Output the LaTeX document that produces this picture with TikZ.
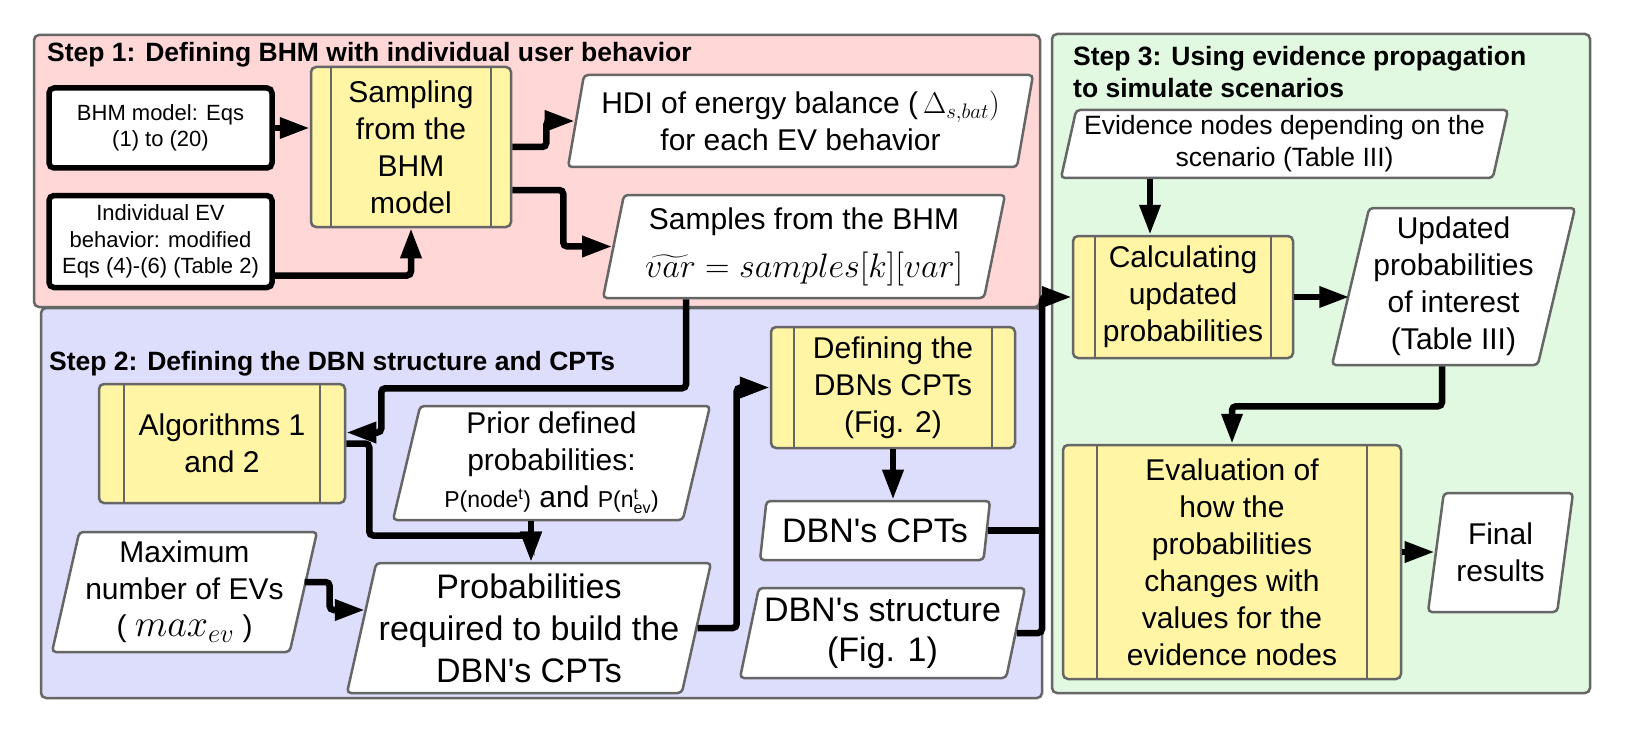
\RequirePackage{fix-cm}
\documentclass[tikz,border=0pt]{standalone}
\usepackage{amsmath}
\usepackage[no-math]{fontspec}
\setmainfont{Liberation Sans}
\setsansfont{Liberation Sans}
\usepackage{xcolor}
\usepackage{tikz}
\usetikzlibrary{positioning,shapes.geometric,arrows.meta}

\definecolor{stepone}{RGB}{255,215,215}
\definecolor{steptwo}{RGB}{221,221,252}
\definecolor{stepthree}{RGB}{224,249,224}
\definecolor{procyellow}{RGB}{255,245,165}
\definecolor{edgegray}{RGB}{102,102,102}

\newcommand{\pxfont}[2]{\fontsize{#1}{#2}\selectfont}

\begin{document}
\begin{tikzpicture}[x=1pt, y=-1pt,
  frame/.style={draw=edgegray, line width=2.5pt, rounded corners=5pt},
  steptitle/.style={font=\pxfont{26.5}{32}\bfseries, inner sep=0pt, align=left},
  inbox/.style={draw=black, line width=5.5pt, rounded corners=5pt, fill=white,
    align=center, font=\pxfont{22}{26.5}, inner sep=0pt},
  proc/.style={draw=edgegray, line width=2.5pt, rounded corners=5pt, fill=procyellow,
    align=center, font=\pxfont{30}{37}, inner sep=0pt,
    path picture={
      \draw[edgegray, line width=2.5pt]
        ([xshift=#1]path picture bounding box.north west) -- ([xshift=#1]path picture bounding box.south west)
        ([xshift=-#1]path picture bounding box.north east) -- ([xshift=-#1]path picture bounding box.south east);}},
  proc/.default=22pt,
  data/.style={trapezium, trapezium left angle=75, trapezium right angle=105,
    trapezium stretches body, draw=edgegray, line width=2.5pt, rounded corners=4pt,
    fill=white, align=center, font=\pxfont{30}{37}, inner sep=0pt},
  link/.style={line width=6.5pt, rounded corners=4pt},
  arrow/.style={link, -{Triangle[length=30pt, width=20pt]}}
]
  \fill[white] (0,0) rectangle (1647,733);
  \useasboundingbox (0,0) rectangle (1647,733);

  \draw[frame, fill=stepone]   (34,35)   rectangle (1040,307);
  \draw[frame, fill=steptwo]   (41,308)  rectangle (1042,698);
  \draw[frame, fill=stepthree] (1052,34) rectangle (1590,693);

  \node[steptitle, anchor=base west]  (t1) at (47,62)   {Step 1: Defining BHM with individual user behavior};
  \node[steptitle, anchor=base west]  (t2) at (49,370)  {Step 2: Defining the DBN structure and CPTs};
  \node[steptitle, anchor=north west] (t3) at (1073,46) {Step 3: Using evidence propagation\\to simulate scenarios};

  % step 1
  \node[inbox, minimum width=223pt, minimum height=80pt] (bhm) at (160.5,128) {BHM model: Eqs\\(1) to (20)};
  \node[inbox, minimum width=223pt, minimum height=92pt, below=22pt of bhm] (indiv)
    {Individual EV\\behavior: modified\\Eqs (4)-(6) (Table 2)};
  \node[proc=20pt, minimum width=200pt, minimum height=160pt] (samp) at (411,147) {Sampling\\from the\\BHM\\model};
  \node[data, minimum width=465pt, minimum height=92pt] (hdi) at (800.5,121)
    {HDI of energy balance (\,$\Delta_{s,bat})$\\for each EV behavior};
  \node[data, minimum width=402pt, minimum height=103pt, font=\pxfont{30}{44}] (smp) at (804,246.5)
    {Samples from the BHM\\[4pt]{\pxfont{34}{44}$\widetilde{var} = samples[k][var]$}};

  % step 2
  \node[proc=25pt, minimum width=246pt, minimum height=119pt] (alg) at (222,443.5) {Algorithms 1\\and 2};
  \node[data, minimum width=317pt, minimum height=114pt] (prior) at (551.5,463)
    {Prior defined\\probabilities:\\{\pxfont{23}{26}P(node$^{\textsf{t}}$)} and {\pxfont{23}{26}P(n$^{\textsf{t}}_{\textsf{ev}}$)}};
  \node[data, minimum width=265pt, minimum height=120pt] (maxev) at (184.5,592)
    {Maximum\\number of EVs\\( {\pxfont{38}{37}$max_{ev}$} )};
  \node[data, minimum width=364pt, minimum height=130pt, font=\pxfont{34}{42}] (prob) at (529,628)
    {Probabilities\\required to build the\\DBN\textquotesingle s CPTs};
  \node[proc=23pt, minimum width=244pt, minimum height=121pt] (dcpt) at (893,387.5) {Defining the\\DBNs CPTs\\(Fig. 2)};
  \node[data, minimum width=230pt, minimum height=59pt, font=\pxfont{34}{40}] (cpt) at (875,530.5) {DBN\textquotesingle s CPTs};
  \node[data, minimum width=285pt, minimum height=90pt, font=\pxfont{34}{40}] (struct) at (882.5,633)
    {DBN\textquotesingle s structure\\(Fig. 1)};

  % step 3
  \node[data, minimum width=447pt, minimum height=68pt, font=\pxfont{26.5}{32}] (evid) at (1284.5,144)
    {Evidence nodes depending on the\\scenario (Table III)};
  \node[proc=22pt, minimum width=220pt, minimum height=122pt] (calc) at (1183,297) {Calculating\\updated\\probabilities};
  \node[data, minimum width=243pt, minimum height=157pt] (upd) at (1453.5,286.5)
    {Updated\\probabilities\\of interest\\(Table III)};
  \node[proc=34pt, minimum width=338pt, minimum height=234pt] (eval) at (1232,562)
    {Evaluation of\\how the\\probabilities\\changes with\\values for the\\evidence nodes};
  \node[data, minimum width=145pt, minimum height=119pt] (final) at (1500.5,552.5) {Final\\results};

  \coordinate (mergex) at (531,0);
  \coordinate (jx) at (1042,0);
  \coordinate (ex) at (1150,0);

  \draw[arrow] (bhm.east) -- (bhm.east -| samp.west);
  \draw[arrow] ([yshift=-34pt]indiv.east) -| (samp.south);
  \draw[arrow] (samp.east) -- ++(34,0) |- (hdi.west);
  \draw[arrow] ([yshift=-43pt]samp.east) -- ++(51,0) |- (smp.west);

  \draw[arrow] ([xshift=-118pt]smp.south) -- ++(0,89) -| ([xshift=35pt,yshift=11pt]alg.east) -- ([yshift=11pt]alg.east);
  \draw[arrow] (alg.east) -- ++(23,0) -- ++(0,92) -| (prob.north -| mergex);
  \draw[arrow] (prior.south -| mergex) -- (prob.north -| mergex);
  \draw[arrow] ([yshift=10pt]maxev.east) -- ++(25,0) |- ([xshift=4.5pt,yshift=18pt]prob.west);
  \draw[arrow] (prob.east) -- ++(39,0) |- (dcpt.west);
  \draw[arrow] (dcpt.south) -- (dcpt.south |- cpt.north);
  \draw[link]  (cpt.east) -- (cpt.east -| jx);
  \draw[arrow] (struct.east) -- (struct.east -| jx) |- (calc.west);

  \draw[arrow] (evid.south -| ex) -- (calc.north -| ex);
  \draw[arrow] (calc.east) -- (calc.east -| upd.west);
  \draw[arrow] ([xshift=-11.5pt]upd.south) -- ++(0,40) -| (eval.north);
  \draw[arrow] ([yshift=10pt]eval.east) -- ([yshift=10pt]eval.east -| final.west);
\end{tikzpicture}
\end{document}
